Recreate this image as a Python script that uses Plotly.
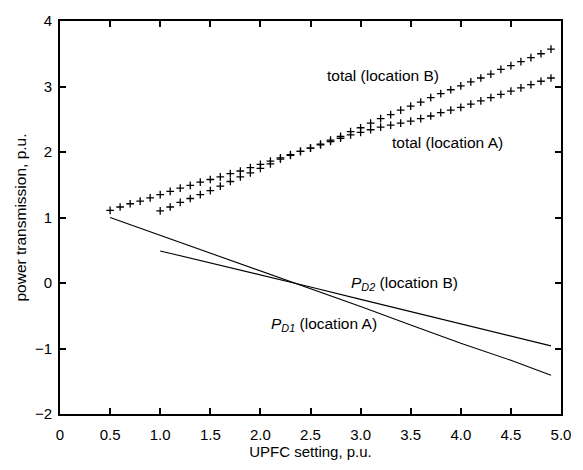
import plotly.graph_objects as go

# total power, location B (UPFC setting 0.5 .. 4.9)
x_total_b = [0.5, 0.6, 0.7, 0.8, 0.9, 1.0, 1.1, 1.2, 1.3, 1.4, 1.5, 1.6, 1.7, 1.8, 1.9,
             2.0, 2.1, 2.2, 2.3, 2.4, 2.5, 2.6, 2.7, 2.8, 2.9, 3.0, 3.1, 3.2, 3.3, 3.4,
             3.5, 3.6, 3.7, 3.8, 3.9, 4.0, 4.1, 4.2, 4.3, 4.4, 4.5, 4.6, 4.7, 4.8, 4.9]
y_total_b = [1.11, 1.16, 1.21, 1.25, 1.30, 1.35, 1.40, 1.45, 1.49, 1.54, 1.58, 1.62, 1.67, 1.71, 1.76,
             1.81, 1.86, 1.91, 1.96, 2.01, 2.06, 2.12, 2.18, 2.24, 2.31, 2.37, 2.44, 2.51, 2.57, 2.64,
             2.70, 2.76, 2.83, 2.89, 2.95, 3.01, 3.07, 3.13, 3.19, 3.26, 3.32, 3.38, 3.44, 3.50, 3.57]

# total power, location A (UPFC setting 1.0 .. 4.9)
x_total_a = [1.0, 1.1, 1.2, 1.3, 1.4, 1.5, 1.6, 1.7, 1.8, 1.9,
             2.0, 2.1, 2.2, 2.3, 2.4, 2.5, 2.6, 2.7, 2.8, 2.9, 3.0, 3.1, 3.2, 3.3, 3.4,
             3.5, 3.6, 3.7, 3.8, 3.9, 4.0, 4.1, 4.2, 4.3, 4.4, 4.5, 4.6, 4.7, 4.8, 4.9]
y_total_a = [1.10, 1.16, 1.23, 1.29, 1.35, 1.41, 1.48, 1.55, 1.62, 1.68,
             1.75, 1.82, 1.89, 1.95, 2.01, 2.06, 2.11, 2.16, 2.21, 2.26, 2.30, 2.34, 2.38, 2.41, 2.44,
             2.47, 2.51, 2.55, 2.60, 2.64, 2.68, 2.73, 2.78, 2.83, 2.88, 2.93, 2.98, 3.03, 3.08, 3.13]

# steep line (starts at 0.5)
x_steep = [0.5, 1.0, 1.5, 2.0, 2.5, 3.0, 3.5, 4.0, 4.5, 4.9]
y_steep = [1.00, 0.73, 0.46, 0.19, -0.09, -0.36, -0.64, -0.92, -1.18, -1.41]

# shallow line (starts at 1.0)
x_shallow = [1.0, 1.5, 2.0, 2.5, 3.0, 3.5, 4.0, 4.5, 4.9]
y_shallow = [0.49, 0.31, 0.12, -0.06, -0.25, -0.44, -0.62, -0.81, -0.96]

x_ticks = [0, 0.5, 1.0, 1.5, 2.0, 2.5, 3.0, 3.5, 4.0, 4.5, 5.0]
x_tick_text = ["0", "0.5", "1.0", "1.5", "2.0", "2.5", "3.0", "3.5", "4.0", "4.5", "5.0"]
y_ticks = [-2, -1, 0, 1, 2, 3, 4]

FONT = "Liberation Sans, Arial, Helvetica, sans-serif"

fig = go.Figure()
cross = dict(symbol="cross-thin", size=5.5, color="black", line=dict(color="black", width=1.3))
fig.add_trace(go.Scatter(x=x_total_b, y=y_total_b, mode="markers", marker=cross, showlegend=False))
fig.add_trace(go.Scatter(x=x_total_a, y=y_total_a, mode="markers", marker=cross, showlegend=False))
fig.add_trace(go.Scatter(x=x_steep, y=y_steep, mode="lines", line=dict(color="black", width=1.1), showlegend=False))
fig.add_trace(go.Scatter(x=x_shallow, y=y_shallow, mode="lines", line=dict(color="black", width=1.1), showlegend=False))

ann_font = dict(family=FONT, size=15.5, color="black")
annotations = [
    dict(x=3.22, y=3.17, text="total (location B)"),
    dict(x=3.87, y=2.15, text="total (location A)"),
    dict(x=3.44, y=0.0, text="<i>P</i><sub><i>D2</i></sub> (location B)"),
    dict(x=2.63, y=-0.63, text="<i>P</i><sub><i>D1</i></sub> (location A)"),
]
for a in annotations:
    fig.add_annotation(x=a["x"], y=a["y"], text=a["text"], showarrow=False, font=ann_font,
                       xanchor="center", yanchor="middle")

axis_common = dict(
    showline=True, linecolor="black", linewidth=2, mirror="ticks",
    ticks="inside", ticklen=6, tickwidth=1.5, tickcolor="black",
    showgrid=False, zeroline=False,
    tickfont=dict(family=FONT, size=15, color="black"),
)

fig.update_layout(
    width=583, height=470,
    margin=dict(l=60, r=18, t=15, b=56),
    paper_bgcolor="white", plot_bgcolor="white",
    font=dict(family=FONT, size=15, color="black"),
    xaxis=dict(range=[0, 5], tickvals=x_ticks, ticktext=x_tick_text, ticklabelstandoff=6,
               title=dict(text="UPFC setting, p.u.", font=dict(family=FONT, size=15), standoff=4),
               **axis_common),
    yaxis=dict(range=[-2, 4], tickvals=y_ticks, ticklabelstandoff=3,
               title=dict(text="power transmission, p.u.", font=dict(family=FONT, size=15.5), standoff=4),
               **axis_common),
)

fig.write_html("out.html")
